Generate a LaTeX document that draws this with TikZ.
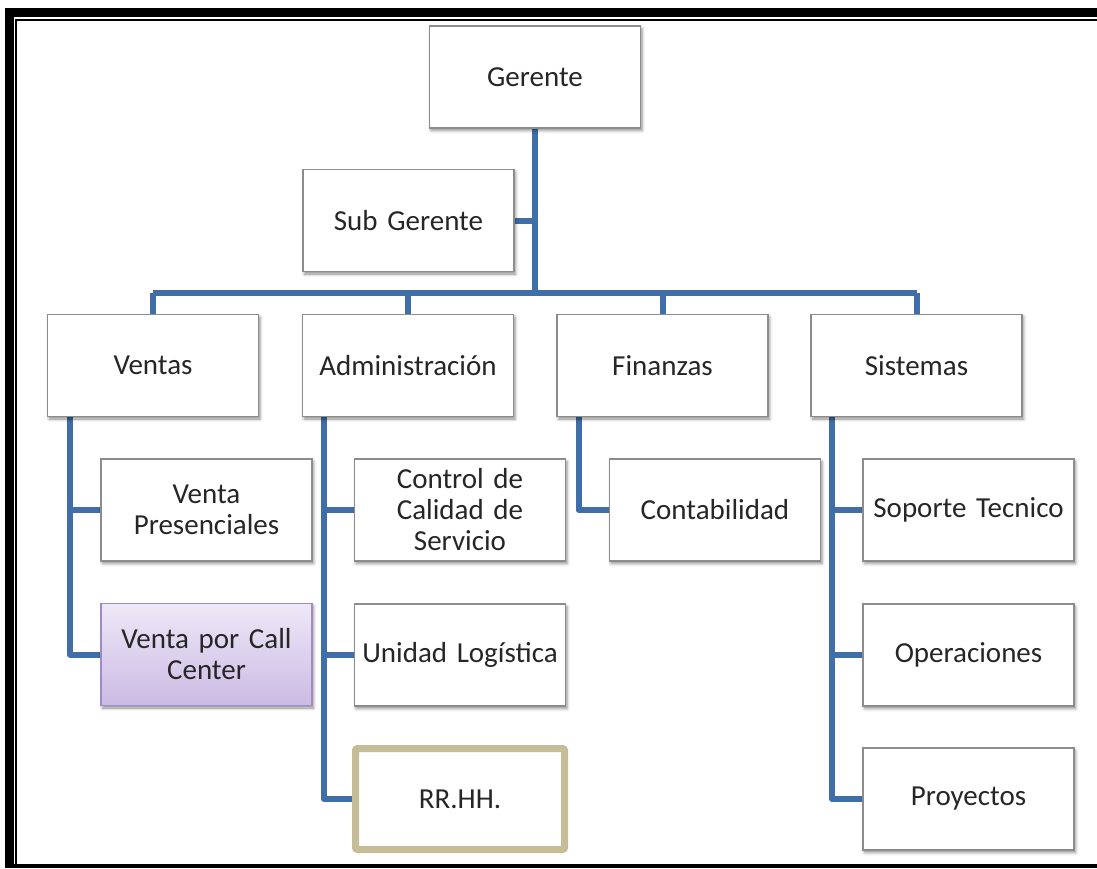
\documentclass[tikz,border=0pt]{standalone}
\usepackage{fontspec}
\setmainfont{Carlito}
\usetikzlibrary{shadows.blur,backgrounds}
\definecolor{linkblue}{RGB}{64,110,168}
\definecolor{boxgray}{RGB}{140,140,140}
\definecolor{txt}{RGB}{38,38,38}
\definecolor{lavtop}{RGB}{238,232,247}
\definecolor{lavbot}{RGB}{203,186,228}
\definecolor{lavedge}{RGB}{160,138,196}
\definecolor{tan}{RGB}{196,189,151}
\tikzset{
  orgbox/.style={draw=boxgray, line width=1.3pt, fill=white,
    minimum width=211pt, minimum height=102pt, inner sep=2pt,
    text width=205pt, align=center, text=txt,
    font=\fontsize{29}{31}\selectfont,
    blur shadow={shadow xshift=1.5pt, shadow yshift=-2.5pt,
      shadow blur radius=3pt, shadow opacity=45}},
  callbox/.style={orgbox, draw=lavedge, top color=lavtop, bottom color=lavbot},
  hrbox/.style={draw=tan, line width=7pt, fill=white, rounded corners=2pt,
    minimum width=209pt, minimum height=101pt, inner sep=2pt,
    text width=200pt, align=center, text=txt,
    font=\fontsize{29}{31}\selectfont},
  link/.style={draw=linkblue, line width=6pt, line join=round},
}
\begin{document}
\begin{tikzpicture}[x=1pt,y=-1pt]
\useasboundingbox (0,0) rectangle (1097,868);
% page frame
\fill[black] (5,8) rectangle (1097,17);
\fill[black] (5,8) rectangle (14,868);
\fill[black] (15,19) rectangle (1097,21);
\fill[black] (15,19) rectangle (17,868);
\fill[black] (5,864) rectangle (1097,868);

% top levels
\node[orgbox] (ger) at (535,77) {Gerente};
\node[orgbox] (sub) at (408.5,220.5) {Sub Gerente};

% departments
\node[orgbox] (ven) at (153,365.5) {Ventas};
\node[orgbox] (adm) at (408,365.5) {Administración};
\node[orgbox] (fin) at (662.5,365.5) {Finanzas};
\node[orgbox] (sis) at (916.5,365.5) {Sistemas};

% units
\node[orgbox] (vp) at (206.5,510) {Venta\\Presenciales};
\node[callbox] (vcc) at (206.5,654.5) {Venta por Call\\Center};
\node[orgbox] (ccs) at (460,510) {Control de\\Calidad de\\Servicio};
\node[orgbox] (ul) at (460,655) {Unidad Logística};
\node[hrbox] (rh) at (460,799) {RR.HH.};
\node[orgbox] (con) at (715,510) {Contabilidad};
\node[orgbox] (sop) at (968.5,510) {Soporte Tecnico};
\node[orgbox] (ope) at (968.5,655) {Operaciones};
\node[orgbox] (pro) at (968.5,799) {Proyectos};

% trunk positions
\coordinate (bar) at (535,293);
\coordinate (tv) at (70,0);
\coordinate (ta) at (324,0);
\coordinate (tf) at (578.5,0);
\coordinate (ts) at (832,0);

\begin{scope}[on background layer]
  \draw[link] (ger.south) -- (bar);
  \draw[link] (sub.east) -- (sub.east -| ger.south);
  \draw[link] (ven.north |- bar) -- (sis.north |- bar);
  \foreach \d in {ven,adm,fin,sis}
    \draw[link] (\d.north |- bar) -- (\d.north);
  % Ventas
  \draw[link] (tv |- ven.south) |- (vcc.west);
  \draw[link] (tv |- vp.west) -- (vp.west);
  % Administracion
  \draw[link] (ta |- adm.south) |- (rh.west);
  \draw[link] (ta |- ccs.west) -- (ccs.west);
  \draw[link] (ta |- ul.west) -- (ul.west);
  % Finanzas
  \draw[link] (tf |- fin.south) |- (con.west);
  % Sistemas
  \draw[link] (ts |- sis.south) |- (pro.west);
  \draw[link] (ts |- sop.west) -- (sop.west);
  \draw[link] (ts |- ope.west) -- (ope.west);
\end{scope}
\end{tikzpicture}
\end{document}
